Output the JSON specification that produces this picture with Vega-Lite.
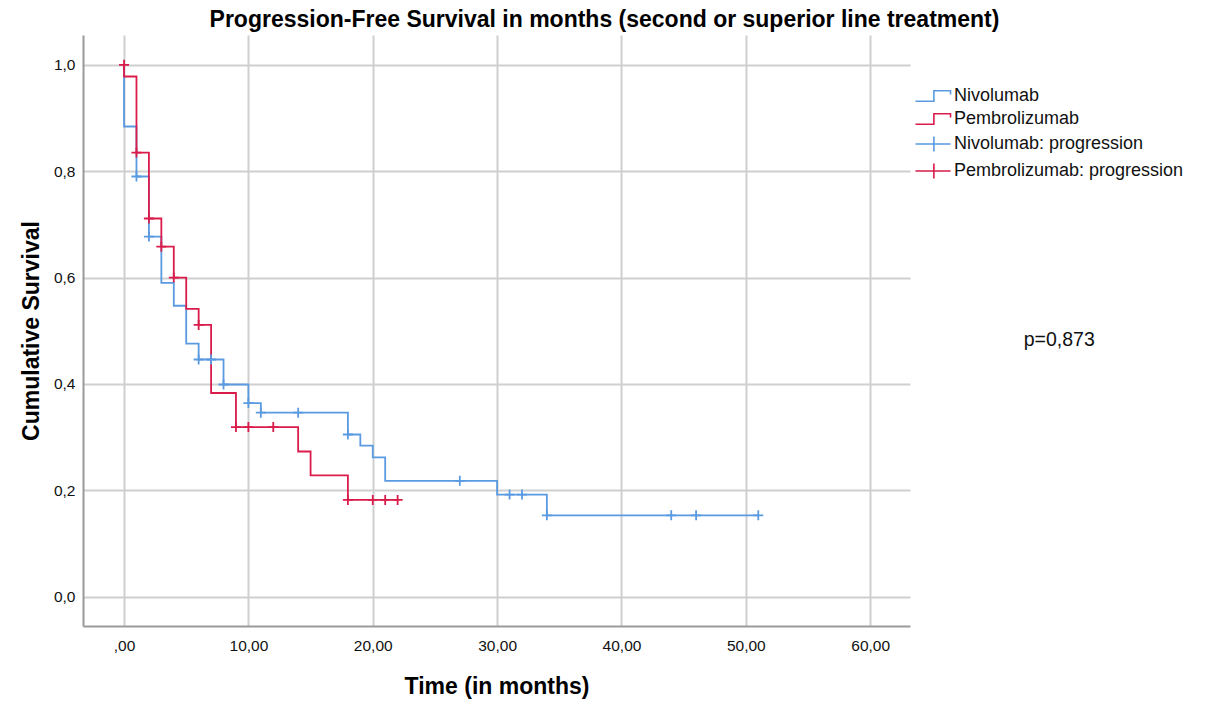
{
  "$schema": "https://vega.github.io/schema/vega-lite/v6.json",
  "width": 827,
  "height": 591,
  "autosize": {"type": "none"},
  "padding": {"left": 83, "top": 35, "right": 299, "bottom": 76},
  "background": "white",
  "title": {
    "text": "Progression-Free Survival in months (second or superior line treatment)",
    "anchor": "middle",
    "frame": "group",
    "dx": 108,
    "dy": 24,
    "font": "Liberation Sans",
    "fontSize": 23,
    "fontWeight": "bold",
    "color": "#000000",
    "baseline": "alphabetic",
    "offset": 9
  },
  "config": {
    "view": {"stroke": null},
    "axis": {
      "gridColor": "#cfcfcf",
      "gridWidth": 2,
      "domainColor": "#9a9a9a",
      "domainWidth": 2,
      "ticks": false,
      "labelFont": "Liberation Sans",
      "labelFontSize": 15.5,
      "labelColor": "#111111",
      "titleFont": "Liberation Sans",
      "titleFontSize": 23,
      "titleFontWeight": "bold",
      "titleColor": "#000000"
    }
  },
  "datasets": {
    "curves": [
      {"series": "Nivolumab", "k": 0, "t": 0, "s": 1.0},
      {"series": "Nivolumab", "k": 1, "t": 0, "s": 0.884},
      {"series": "Nivolumab", "k": 2, "t": 1, "s": 0.790},
      {"series": "Nivolumab", "k": 3, "t": 2, "s": 0.677},
      {"series": "Nivolumab", "k": 4, "t": 3, "s": 0.590},
      {"series": "Nivolumab", "k": 5, "t": 4, "s": 0.547},
      {"series": "Nivolumab", "k": 6, "t": 5, "s": 0.476},
      {"series": "Nivolumab", "k": 7, "t": 6, "s": 0.446},
      {"series": "Nivolumab", "k": 8, "t": 8, "s": 0.399},
      {"series": "Nivolumab", "k": 9, "t": 10, "s": 0.364},
      {"series": "Nivolumab", "k": 10, "t": 11, "s": 0.346},
      {"series": "Nivolumab", "k": 11, "t": 18, "s": 0.305},
      {"series": "Nivolumab", "k": 12, "t": 19, "s": 0.284},
      {"series": "Nivolumab", "k": 13, "t": 20, "s": 0.262},
      {"series": "Nivolumab", "k": 14, "t": 21, "s": 0.218},
      {"series": "Nivolumab", "k": 15, "t": 30, "s": 0.192},
      {"series": "Nivolumab", "k": 16, "t": 34, "s": 0.153},
      {"series": "Nivolumab", "k": 17, "t": 51, "s": 0.153},
      {"series": "Pembrolizumab", "k": 0, "t": 0, "s": 1.0},
      {"series": "Pembrolizumab", "k": 1, "t": 0, "s": 0.978},
      {"series": "Pembrolizumab", "k": 2, "t": 1, "s": 0.835},
      {"series": "Pembrolizumab", "k": 3, "t": 2, "s": 0.711},
      {"series": "Pembrolizumab", "k": 4, "t": 3, "s": 0.658},
      {"series": "Pembrolizumab", "k": 5, "t": 4, "s": 0.600},
      {"series": "Pembrolizumab", "k": 6, "t": 5, "s": 0.541},
      {"series": "Pembrolizumab", "k": 7, "t": 6, "s": 0.511},
      {"series": "Pembrolizumab", "k": 8, "t": 7, "s": 0.383},
      {"series": "Pembrolizumab", "k": 9, "t": 9, "s": 0.319},
      {"series": "Pembrolizumab", "k": 10, "t": 14, "s": 0.273},
      {"series": "Pembrolizumab", "k": 11, "t": 15, "s": 0.228},
      {"series": "Pembrolizumab", "k": 12, "t": 18, "s": 0.182},
      {"series": "Pembrolizumab", "k": 13, "t": 22, "s": 0.182}
    ],
    "censored": [
      {"series": "Nivolumab: progression", "t": 1, "s": 0.790},
      {"series": "Nivolumab: progression", "t": 2, "s": 0.677},
      {"series": "Nivolumab: progression", "t": 6, "s": 0.446},
      {"series": "Nivolumab: progression", "t": 7, "s": 0.446},
      {"series": "Nivolumab: progression", "t": 8, "s": 0.399},
      {"series": "Nivolumab: progression", "t": 10, "s": 0.364},
      {"series": "Nivolumab: progression", "t": 11, "s": 0.346},
      {"series": "Nivolumab: progression", "t": 14, "s": 0.346},
      {"series": "Nivolumab: progression", "t": 18, "s": 0.305},
      {"series": "Nivolumab: progression", "t": 27, "s": 0.218},
      {"series": "Nivolumab: progression", "t": 31, "s": 0.192},
      {"series": "Nivolumab: progression", "t": 32, "s": 0.192},
      {"series": "Nivolumab: progression", "t": 34, "s": 0.153},
      {"series": "Nivolumab: progression", "t": 44, "s": 0.153},
      {"series": "Nivolumab: progression", "t": 46, "s": 0.153},
      {"series": "Nivolumab: progression", "t": 51, "s": 0.153},
      {"series": "Pembrolizumab: progression", "t": 0, "s": 1.0},
      {"series": "Pembrolizumab: progression", "t": 1, "s": 0.835},
      {"series": "Pembrolizumab: progression", "t": 2, "s": 0.711},
      {"series": "Pembrolizumab: progression", "t": 3, "s": 0.658},
      {"series": "Pembrolizumab: progression", "t": 4, "s": 0.600},
      {"series": "Pembrolizumab: progression", "t": 6, "s": 0.511},
      {"series": "Pembrolizumab: progression", "t": 9, "s": 0.319},
      {"series": "Pembrolizumab: progression", "t": 10, "s": 0.319},
      {"series": "Pembrolizumab: progression", "t": 12, "s": 0.319},
      {"series": "Pembrolizumab: progression", "t": 18, "s": 0.182},
      {"series": "Pembrolizumab: progression", "t": 20, "s": 0.182},
      {"series": "Pembrolizumab: progression", "t": 21, "s": 0.182},
      {"series": "Pembrolizumab: progression", "t": 22, "s": 0.182}
    ],
    "notes": [
      {"note": "p=0,873"}
    ]
  },
  "layer": [
    {
      "data": {"name": "curves"},
      "mark": {"type": "line", "interpolate": "step-after", "strokeWidth": 1.8},
      "encoding": {
        "x": {
          "field": "t",
          "type": "quantitative",
          "scale": {"domain": [-3.3, 63.2], "nice": false, "zero": false},
          "axis": {
            "title": "Time (in months)",
            "values": [0, 10, 20, 30, 40, 50, 60],
            "labelExpr": "datum.value == 0 ? ',00' : replace(format(datum.value, '.2f'), '.', ',')",
            "labelPadding": 12,
            "titlePadding": 22
          }
        },
        "y": {
          "field": "s",
          "type": "quantitative",
          "scale": {"domain": [-0.055, 1.056], "nice": false, "zero": false},
          "axis": {
            "title": "Cumulative Survival",
            "values": [0, 0.2, 0.4, 0.6, 0.8, 1.0],
            "labelExpr": "replace(format(datum.value, '.1f'), '.', ',')",
            "labelPadding": 8,
            "titlePadding": 10
          }
        },
        "color": {
          "field": "series",
          "type": "nominal",
          "scale": {
            "domain": ["Nivolumab", "Pembrolizumab", "Nivolumab: progression", "Pembrolizumab: progression"],
            "range": ["#5a9ae1", "#d91c4b", "#5a9ae1", "#d91c4b"]
          },
          "legend": {
            "orient": "none",
            "legendX": 841,
            "legendY": 52,
            "title": null,
            "padding": 0,
            "labelFont": "Liberation Sans",
            "labelFontSize": 18,
            "labelColor": "#111111",
            "labelLimit": 400,
            "labelOffset": 12,
            "symbolSize": 256,
            "symbolStrokeWidth": 1.6,
            "rowPadding": 5,
            "encode": {
              "symbols": {
                "update": {
                  "shape": {"signal": "indexof(datum.value, ':') > 0 ? 'M-2.19,0H2.19M0.11,-0.94V0.94' : 'M-2.19,0.66H0.11V-0.66H2.19V-0.18'"},
                  "fill": {"value": "transparent"},
                  "stroke": {"scale": "color", "field": "value"},
                  "strokeWidth": {"value": 1.6},
                  "opacity": {"value": 1}
                }
              }
            }
          }
        },
        "order": {"field": "k", "type": "quantitative"}
      }
    },
    {
      "data": {"name": "censored"},
      "mark": {"type": "point", "shape": "M-1,0H1M0,-1V1", "filled": false, "size": 100, "strokeWidth": 1.8, "opacity": 1},
      "encoding": {
        "x": {"field": "t", "type": "quantitative"},
        "y": {"field": "s", "type": "quantitative"},
        "color": {"field": "series", "type": "nominal"}
      }
    },
    {
      "data": {"name": "notes"},
      "mark": {"type": "text", "font": "Liberation Sans", "fontSize": 19.5, "color": "#111111", "align": "center", "baseline": "middle"},
      "encoding": {
        "x": {"datum": 75.2, "type": "quantitative"},
        "y": {"datum": 0.482, "type": "quantitative"},
        "text": {"field": "note"}
      }
    }
  ]
}
